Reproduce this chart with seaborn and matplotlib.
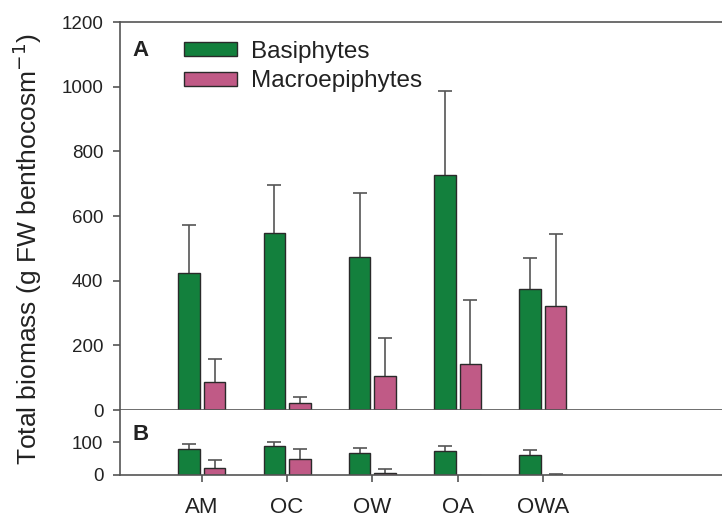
import matplotlib
matplotlib.use("Agg")
import matplotlib.pyplot as plt
from matplotlib.patches import Patch
import seaborn as sns
import pandas as pd
import numpy as np

categories = ["AM", "OC", "OW", "OA", "OWA"]
series = ["Basiphytes", "Macroepiphytes"]

# Panel A values and SE (upper error only)
a_basi = [423, 548, 474, 727, 375]
a_basi_err = [148, 148, 196, 261, 96]
a_macro = [86, 23, 105, 141, 323]
a_macro_err = [71, 18, 117, 199, 220]

# Panel B values and SE
b_basi = [79, 88, 69, 73, 62]
b_basi_err = [17, 15, 14, 16, 15]
b_macro = [20, 48, 7, 0, 1]
b_macro_err = [27, 31, 10, 0, 3]

colors = {"Basiphytes": "#13803d", "Macroepiphytes": "#c05a86"}

sns.set_theme(style="white")
plt.rcParams["font.family"] = ["Liberation Sans", "DejaVu Sans"]

def make_df(v1, e1, v2, e2):
    rows = []
    for c, a, ea in zip(categories, v1, e1):
        rows.append({"cat": c, "series": series[0], "val": a, "err": ea})
    for c, a, ea in zip(categories, v2, e2):
        rows.append({"cat": c, "series": series[1], "val": a, "err": ea})
    return pd.DataFrame(rows)

dfA = make_df(a_basi, a_basi_err, a_macro, a_macro_err)
dfB = make_df(b_basi, b_basi_err, b_macro, b_macro_err)

fig = plt.figure(figsize=(7.22, 5.19), dpi=100)
axA = fig.add_axes([0.1662, 0.2100, 0.8338, 0.7476])
axB = fig.add_axes([0.1662, 0.0848, 0.8338, 0.1252])

spine_col = "#555555"
err_col = "#555555"

def draw(ax, df, ylim, yticks):
    sns.barplot(data=df, x="cat", y="val", hue="series", order=categories,
                hue_order=series, palette=colors, width=0.6, gap=0.16,
                edgecolor="#2a2a2a", linewidth=1.0, errorbar=None,
                legend=False, ax=ax, saturation=1, zorder=2)
    bars = [p for p in ax.patches][:len(df)]
    errs = list(df["err"])
    for p, e in zip(bars, errs):
        if e <= 0:
            continue
        x = p.get_x() + p.get_width() / 2
        h = p.get_height()
        ax.plot([x, x], [h, h + e], color=err_col, lw=1.2, zorder=1,
                solid_capstyle="butt")
        ax.plot([x], [h + e], marker="_", markersize=10, markeredgewidth=1.2,
                color=err_col, zorder=1)
    ax.set_xlim(-0.96, 6.1)
    ax.set_ylim(*ylim)
    ax.set_yticks(yticks)
    ax.set_xlabel("")
    ax.set_ylabel("")
    for s in ["left", "bottom", "top"]:
        ax.spines[s].set_color(spine_col)
        ax.spines[s].set_linewidth(1.2)
    ax.spines["right"].set_visible(False)
    ax.tick_params(axis="y", which="both", left=True, length=5, width=1.2,
                   color=spine_col, labelsize=13.5, pad=7, labelcolor="#222222")

draw(axA, dfA, (0, 1200), [0, 200, 400, 600, 800, 1000, 1200])
draw(axB, dfB, (0, 200), [0, 100])

axA.tick_params(axis="x", bottom=False, labelbottom=False)
axB.spines["top"].set_visible(False)
axB.tick_params(axis="x", bottom=True, length=5, width=1.2, color=spine_col,
                labelsize=16, pad=11, labelcolor="#222222")

fig.text(132 / 722, 1 - 50 / 519, "A", fontsize=16, fontweight="bold",
         va="center", ha="left", color="#222222")
fig.text(132 / 722, 1 - 434 / 519, "B", fontsize=16, fontweight="bold",
         va="center", ha="left", color="#222222")

handles = [Patch(facecolor=colors[s], edgecolor="#2a2a2a", linewidth=1.0) for s in series]
leg = axA.legend(handles, series, loc="upper left",
                 bbox_to_anchor=(184 / 722, 1 - 41 / 519),
                 bbox_transform=fig.transFigure,
                 frameon=False, fontsize=17.5, handlelength=2.2, handleheight=0.5,
                 handletextpad=0.55, labelspacing=0.3, borderaxespad=0,
                 borderpad=0)
for t in leg.get_texts():
    t.set_color("#222222")

fig.text(0.038, 0.52, "Total biomass (g FW benthocosm$^{-1}$)", rotation=90,
         ha="center", va="center", fontsize=19, color="#222222")

fig.savefig("out.png", dpi=100)
